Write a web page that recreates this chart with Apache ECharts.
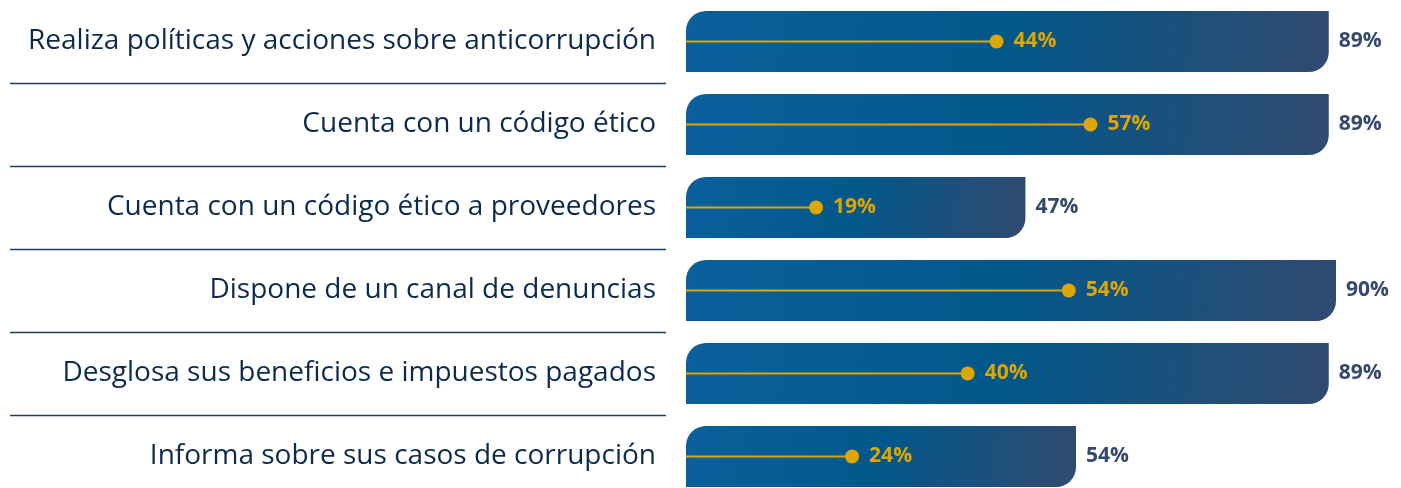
<!DOCTYPE html>
<html>
<head>
<meta charset="utf-8">
<script src="https://cdn.jsdelivr.net/npm/echarts@6/dist/echarts.min.js"></script>
<style>
html,body{margin:0;padding:0;background:#fff;overflow:hidden;}
#chart{width:1401px;height:498px;}
</style>
</head>
<body>
<div id="chart"></div>
<script>
var categories = [
  'Realiza políticas y acciones sobre anticorrupción',
  'Cuenta con un código ético',
  'Cuenta con un código ético a proveedores',
  'Dispone de un canal de denuncias',
  'Desglosa sus beneficios e impuestos pagados',
  'Informa sobre sus casos de corrupción'
];
var totalValues = [89, 89, 47, 90, 89, 54];
var dotValues = [44, 57, 19, 54, 40, 24];

var chart = echarts.init(document.getElementById('chart'));
var gold = '#dea600';
var option = {
  backgroundColor: '#ffffff',
  animation: false,
  grid: [
    {left: 686, width: 650, top: 0, bottom: 0, containLabel: false},
    {left: 10, width: 656, top: 0, bottom: 0, containLabel: false}
  ],
  xAxis: [
    {type: 'value', gridIndex: 0, min: 0, max: 90, show: false},
    {type: 'value', gridIndex: 0, min: 1, max: 91, show: false},
    {type: 'value', gridIndex: 1, min: 0, max: 1, show: false}
  ],
  yAxis: [
    {type: 'category', gridIndex: 0, data: categories, inverse: true,
     axisLine: {show: false}, axisTick: {show: false}, splitLine: {show: false},
     axisLabel: {margin: 30, fontSize: 28, color: '#0c2b4c', fontFamily: 'Open Sans'}},
    {type: 'category', gridIndex: 0, data: categories, inverse: true, show: false},
    {type: 'category', gridIndex: 1, data: categories, inverse: true,
     axisLine: {show: false}, axisTick: {show: false}, axisLabel: {show: false},
     splitLine: {show: true, lineStyle: {color: '#1f3d5e', width: 1.3},
       interval: function (idx) { return idx !== 0; }}}
  ],
  series: [
    {
      type: 'bar', xAxisIndex: 0, yAxisIndex: 0, data: totalValues,
      barWidth: 61,
      itemStyle: {
        borderRadius: [20, 0, 20, 0],
        color: new echarts.graphic.LinearGradient(0, 0, 1, 1, [
          {offset: 0, color: '#0a609b'},
          {offset: 0.5, color: '#02578a'},
          {offset: 1, color: '#314a6f'}
        ])
      },
      label: {show: true, position: 'right', distance: 10, formatter: '{c}%',
        fontSize: 21, fontWeight: 'bold', color: '#34496c', fontFamily: 'Open Sans'}
    },
    {
      type: 'bar', xAxisIndex: 1, yAxisIndex: 1, data: dotValues,
      barWidth: 2, itemStyle: {color: gold, opacity: 1}
    },
    {
      type: 'scatter', xAxisIndex: 1, yAxisIndex: 1, data: dotValues,
      symbol: 'circle', symbolSize: 14, itemStyle: {color: gold, opacity: 1},
      label: {show: true, position: 'right', distance: 10, formatter: '{c}%',
        fontSize: 21, fontWeight: 'bold', color: gold, opacity: 1, fontFamily: 'Open Sans'}
    }
  ]
};
chart.setOption(option);
</script>
</body>
</html>
